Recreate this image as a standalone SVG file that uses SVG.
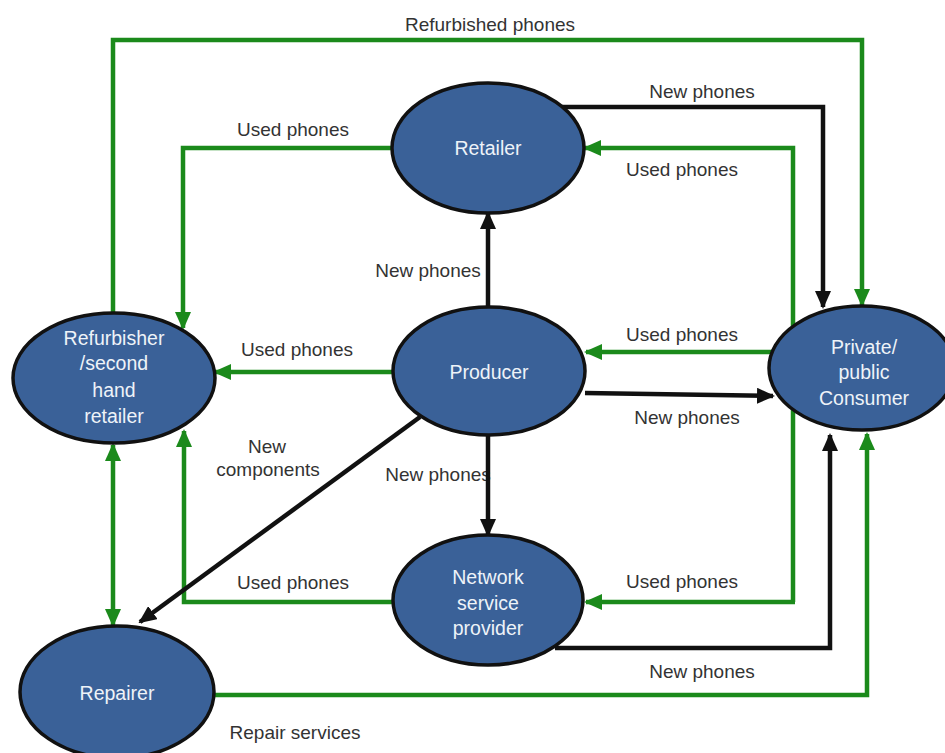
<svg xmlns="http://www.w3.org/2000/svg" width="945" height="753" viewBox="0 0 945 753">
<style>
.g{fill:none;stroke:#1b8a1b;stroke-width:4.5}
.k{fill:none;stroke:#111;stroke-width:4.5}
.node ellipse{fill:#3a6198;stroke:#111;stroke-width:3.5}
.node text{fill:#eef3f8;font-family:"Liberation Sans",Arial,sans-serif;font-size:19.5px;text-anchor:middle}
.lbl{fill:#333;font-family:"Liberation Sans",Arial,sans-serif;font-size:19px;text-anchor:middle}
</style>
<defs>
<marker id="ag" viewBox="0 0 18 16" refX="16" refY="8" markerWidth="18" markerHeight="16" markerUnits="userSpaceOnUse" orient="auto-start-reverse"><path d="M0,0 L18,8 L0,16 z" fill="#1b8a1b"/></marker>
<marker id="ak" viewBox="0 0 18 16" refX="16" refY="8" markerWidth="18" markerHeight="16" markerUnits="userSpaceOnUse" orient="auto-start-reverse"><path d="M0,0 L18,8 L0,16 z" fill="#111"/></marker>
</defs>
<rect width="945" height="753" fill="#fff"/>
<g id="labels">
<text class="lbl" x="490" y="31">Refurbished phones</text>
<text class="lbl" x="702" y="98">New phones</text>
<text class="lbl" x="682" y="176">Used phones</text>
<text class="lbl" x="293" y="136">Used phones</text>
<text class="lbl" x="428" y="277">New phones</text>
<text class="lbl" x="297" y="356">Used phones</text>
<text class="lbl" x="682" y="341">Used phones</text>
<text class="lbl" x="687" y="424">New phones</text>
<text class="lbl" x="267" y="453">New</text>
<text class="lbl" x="268" y="476">components</text>
<text class="lbl" x="438" y="481">New phones</text>
<text class="lbl" x="293" y="589">Used phones</text>
<text class="lbl" x="682" y="588">Used phones</text>
<text class="lbl" x="702" y="678">New phones</text>
<text class="lbl" x="295" y="739">Repair services</text>
</g>
<g id="connectors">
<path class="g" d="M113,313 V40 H862 V305" marker-end="url(#ag)"/>
<path class="k" d="M562,107 H823 V307" marker-end="url(#ak)"/>
<path class="g" d="M793,602 V148 H585" marker-end="url(#ag)"/>
<path class="g" d="M793,352 H586" marker-end="url(#ag)"/>
<path class="g" d="M795,602 H586" marker-end="url(#ag)"/>
<path class="k" d="M585,393 L773,396" marker-end="url(#ak)"/>
<path class="k" d="M555,648 H830 V435" marker-end="url(#ak)"/>
<path class="g" d="M213,695 H867 V434" marker-end="url(#ag)"/>
<path class="g" d="M393,148 H183 V328" marker-end="url(#ag)"/>
<path class="g" d="M393,372 H215" marker-end="url(#ag)"/>
<path class="g" d="M393,602 H184 V431" marker-end="url(#ag)"/>
<path class="g" d="M113,445 V625" marker-start="url(#ag)" marker-end="url(#ag)"/>
<path class="k" d="M488,307 V213" marker-end="url(#ak)"/>
<path class="k" d="M488,435 V535" marker-end="url(#ak)"/>
<path class="k" d="M420,417 L140,622" marker-end="url(#ak)"/>
</g>
<g id="retailer" class="node"><ellipse cx="488" cy="148" rx="96" ry="65"/><text x="488" y="155">Retailer</text></g>
<g id="producer" class="node"><ellipse cx="489" cy="371" rx="96" ry="64"/><text x="489" y="379">Producer</text></g>
<g id="network" class="node"><ellipse cx="488" cy="600" rx="95" ry="65"/><text x="488" y="584">Network</text><text x="488" y="610">service</text><text x="488" y="635">provider</text></g>
<g id="refurbisher" class="node"><ellipse cx="114" cy="378" rx="101" ry="65"/><text x="114" y="345">Refurbisher</text><text x="114" y="370">/second</text><text x="114" y="397">hand</text><text x="114" y="423">retailer</text></g>
<g id="repairer" class="node"><ellipse cx="117" cy="692" rx="97" ry="66"/><text x="117" y="700">Repairer</text></g>
<g id="consumer" class="node"><ellipse cx="862" cy="368" rx="93" ry="62"/><text x="864" y="354">Private/</text><text x="864" y="379">public</text><text x="864" y="405">Consumer</text></g>
</svg>
